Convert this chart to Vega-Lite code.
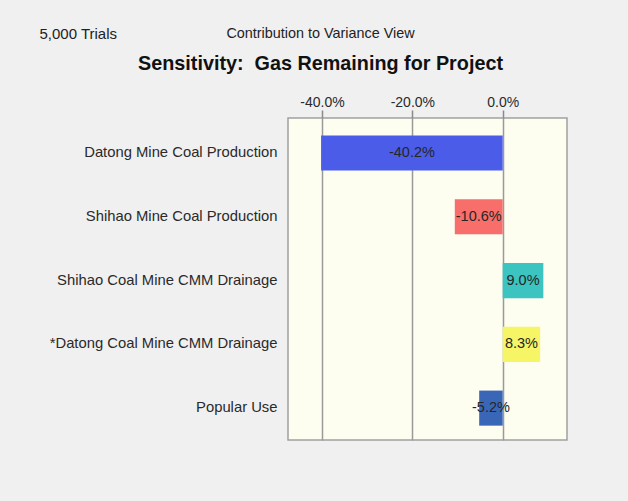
{
  "$schema": "https://vega.github.io/schema/vega-lite/v6.json",
  "width": 279,
  "height": 322,
  "autosize": {"type": "none"},
  "padding": {"left": 288, "top": 118, "right": 61, "bottom": 61},
  "background": "#f0f0f0",
  "title": {
    "text": "Contribution to Variance View",
    "subtitle": "Sensitivity:\u00a0 Gas Remaining for Project",
    "anchor": "middle",
    "frame": "group",
    "dx": -107,
    "font": "Liberation Sans",
    "fontSize": 14.4,
    "fontWeight": "normal",
    "color": "#222222",
    "subtitleFont": "Liberation Sans",
    "subtitleFontSize": 19.8,
    "subtitleFontWeight": "bold",
    "subtitleColor": "#111111",
    "subtitlePadding": 13,
    "offset": -49
  },
  "data": {
    "values": [
      {"variable": "Datong Mine Coal Production", "contribution": -0.402},
      {"variable": "Shihao Mine Coal Production", "contribution": -0.106},
      {"variable": "Shihao Coal Mine CMM Drainage", "contribution": 0.090},
      {"variable": "*Datong Coal Mine CMM Drainage", "contribution": 0.083},
      {"variable": "Popular Use", "contribution": -0.052}
    ]
  },
  "encoding": {
    "y": {
      "field": "variable",
      "type": "nominal",
      "sort": null,
      "scale": {"paddingInner": 0.45, "paddingOuter": 0.25, "align": 0.55},
      "axis": {
        "title": "5,000 Trials",
        "titleAngle": 0,
        "titleAlign": "left",
        "titleBaseline": "middle",
        "titleX": -249,
        "titleY": -85,
        "titleFont": "Liberation Sans",
        "titleFontSize": 15,
        "titleFontWeight": "normal",
        "titleColor": "#222222",
        "labelFont": "Liberation Sans",
        "labelFontSize": 14.8,
        "labelColor": "#2a2a2a",
        "labelPadding": 11,
        "labelLimit": 300,
        "ticks": false,
        "domain": false,
        "grid": false
      }
    }
  },
  "layer": [
    {
      "mark": {"type": "bar"},
      "encoding": {
        "x": {
          "field": "contribution",
          "type": "quantitative",
          "scale": {"domain": [-0.4753, 0.1424], "nice": false, "zero": false},
          "axis": {
            "orient": "top",
            "values": [-0.4, -0.2, 0],
            "format": ".1%",
            "title": null,
            "labelFont": "Liberation Sans",
            "labelFontSize": 14,
            "labelColor": "#2a2a2a",
            "labelPadding": 1,
            "tickSize": 8,
            "tickColor": "#8a8a8a",
            "tickWidth": 1.5,
            "grid": true,
            "gridColor": "#9a9a9a",
            "gridWidth": 1.5,
            "domain": false
          }
        },
        "x2": {"datum": 0},
        "color": {
          "field": "variable",
          "type": "nominal",
          "legend": null,
          "scale": {
            "domain": ["Datong Mine Coal Production", "Shihao Mine Coal Production", "Shihao Coal Mine CMM Drainage", "*Datong Coal Mine CMM Drainage", "Popular Use"],
            "range": ["#4a5ce8", "#f86e6a", "#3cc4c0", "#f5f566", "#3a66b8"]
          }
        }
      }
    },
    {
      "mark": {"type": "text", "font": "Liberation Sans", "fontSize": 14.5, "color": "#262626", "align": "center", "baseline": "middle"},
      "encoding": {
        "x": {
          "field": "contribution",
          "type": "quantitative",
          "scale": {"domain": [-0.9506, 0.2848], "nice": false, "zero": false},
          "axis": null
        },
        "text": {"field": "contribution", "type": "quantitative", "format": ".1%"}
      }
    }
  ],
  "resolve": {"scale": {"x": "independent"}},
  "config": {
    "locale": {"number": {"decimal": ".", "thousands": ",", "grouping": [3], "currency": ["$", ""], "minus": "-"}},
    "view": {"fill": "#fdfdf0", "stroke": "#a0a0a0", "strokeWidth": 1.5}
  }
}
